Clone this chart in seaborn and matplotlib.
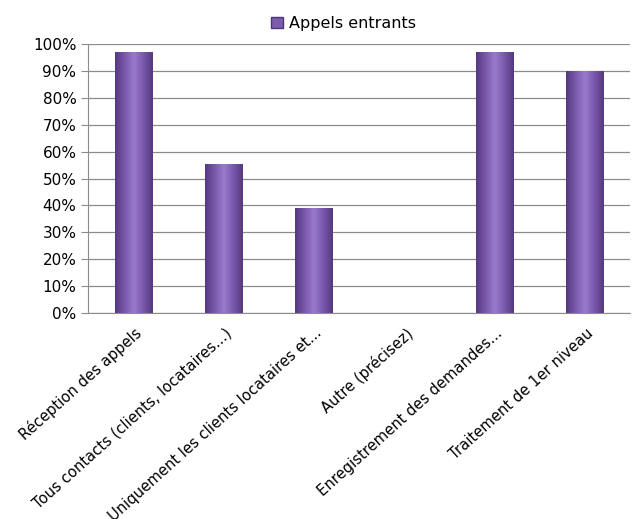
import matplotlib
matplotlib.use("Agg")
import matplotlib.pyplot as plt
import matplotlib.transforms as mtransforms
import seaborn as sns
import pandas as pd
import numpy as np
from matplotlib.ticker import FuncFormatter, MultipleLocator
from matplotlib.patches import Patch
from matplotlib.colors import LinearSegmentedColormap

categories = ["Réception des appels", "Tous contacts (clients, locataires...)",
              "Uniquement les clients locataires et...", "Autre (précisez)",
              "Enregistrement des demandes...", "Traitement de 1er niveau"]
values = [0.97, 0.555, 0.39, 0.0, 0.97, 0.90]
series_name = "Appels entrants"

df = pd.DataFrame({"cat": categories, "val": values})

sns.set_style("white")
plt.rcParams['font.family'] = ['DejaVu Sans']
plt.rcParams['text.color'] = 'black'
plt.rcParams['xtick.labelcolor'] = 'black'
plt.rcParams['ytick.labelcolor'] = 'black'

fig = plt.figure(figsize=(6.39, 5.19), dpi=100)
ax = fig.add_axes([0.138, 0.397, 0.848, 0.518])

sns.barplot(data=df, x="cat", y="val", color="#7D5CAE", width=0.41,
            edgecolor="#4E3577", linewidth=0.6, saturation=1, ax=ax)

# gradient shading on bars
cmap = LinearSegmentedColormap.from_list(
    "bar", ["#55397F", "#7A58AE", "#9A7BCB", "#7A58AE", "#55397F"])
grad = np.linspace(0, 1, 64).reshape(1, -1)
for p in list(ax.patches):
    x0, w, h = p.get_x(), p.get_width(), p.get_height()
    if h <= 0:
        continue
    im = ax.imshow(grad, extent=[x0, x0 + w, 0, h], aspect="auto",
                   cmap=cmap, zorder=p.get_zorder() + 0.1, interpolation="bicubic")
    im.set_clip_path(p)

ax.set_ylim(0, 1.0)
ax.set_xlim(-0.5, len(categories) - 0.5)
ax.yaxis.set_major_locator(MultipleLocator(0.1))
ax.yaxis.set_major_formatter(FuncFormatter(lambda v, p: f"{int(round(v*100))}%"))
ax.grid(axis="y", color="#8C8C8C", linewidth=0.9)
ax.set_axisbelow(True)
for s in ["top", "right"]:
    ax.spines[s].set_visible(False)
ax.spines["left"].set_color("#8C8C8C")
ax.spines["bottom"].set_color("#8C8C8C")
ax.set_xlabel("")
ax.set_ylabel("")

ax.set_xticks(range(len(categories)))
ax.set_xticklabels(categories, rotation=42, ha="right", rotation_mode="anchor", fontsize=10.6)
ax.tick_params(axis="x", length=0, pad=9)
offset = mtransforms.ScaledTranslation(1 / 100, 0, fig.dpi_scale_trans)
for lab in ax.get_xticklabels():
    lab.set_transform(lab.get_transform() + offset)
ax.set_xticks([i - 0.5 for i in range(len(categories) + 1)], minor=True)
ax.tick_params(axis="x", which="minor", length=5, color="#8C8C8C", direction="out")
ax.tick_params(axis="y", length=5, color="#8C8C8C", direction="out", labelsize=11, left=True)

handles = [Patch(facecolor="#7D5CAE", edgecolor="#4E3577", label=series_name)]
fig.legend(handles=handles, loc="upper center", bbox_to_anchor=(0.538, 0.997),
           frameon=False, fontsize=11.5, handlelength=0.75, handleheight=0.75,
           handletextpad=0.4)

fig.savefig("out.png", dpi=100)
